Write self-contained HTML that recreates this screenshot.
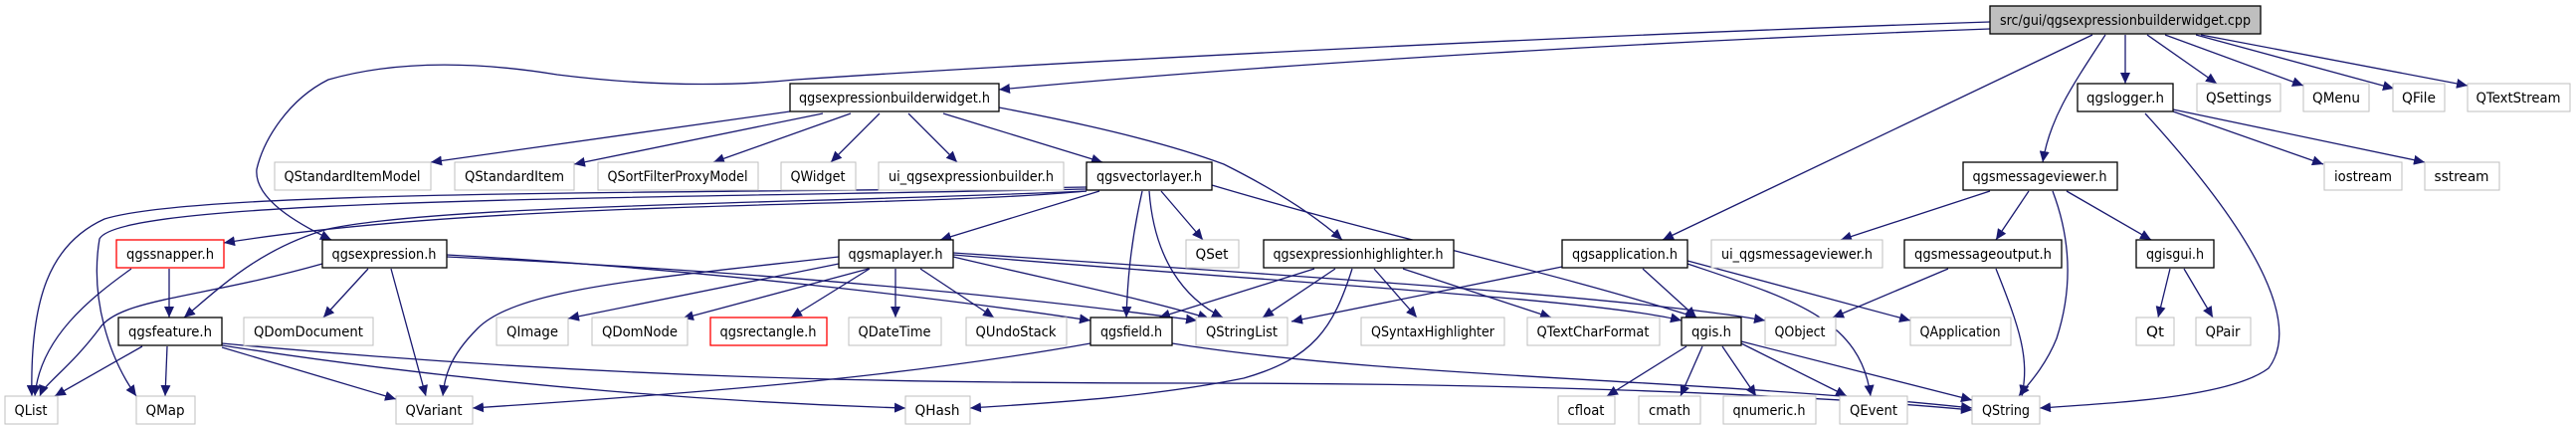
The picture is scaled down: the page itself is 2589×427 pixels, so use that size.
<!DOCTYPE html>
<html><head><meta charset="utf-8"><style>
html,body{margin:0;padding:0;background:#fff;}
svg{display:block;}
text{font-family:"DejaVu Sans","Liberation Sans",sans-serif;font-size:14px;fill:#000;}
.e{fill:none;stroke:#191970;stroke-width:1.3;marker-end:url(#a);}
</style></head><body>
<svg width="2589" height="427" viewBox="0 0 2589 427" xmlns="http://www.w3.org/2000/svg">
<defs><marker id="a" markerUnits="userSpaceOnUse" markerWidth="12" markerHeight="10" refX="11" refY="5" orient="auto"><path d="M0,0 L11,5 L0,10 Z" fill="#191970"/></marker></defs>
<g id="edges">
<path class="e" d="M2000,22 C1600,35 1100,60 800,80 C720,88 640,85 560,75 C480,62 400,60 330,80 C290,100 265,140 258,170 C255,200 300,225 333,241"/>
<path class="e" d="M2000,29 C1700,40 1300,62 1004,90"/>
<path class="e" d="M2103,35 L1671,241"/>
<path class="e" d="M2116,35 C2080,90 2060,120 2053,163"/>
<path class="e" d="M2136,35 L2136,84"/>
<path class="e" d="M2158,35 L2228,84"/>
<path class="e" d="M2176,35 L2315,86"/>
<path class="e" d="M2207,35 L2406,89"/>
<path class="e" d="M2212,35 L2480,86"/>
<path class="e" d="M794,112 L433,163"/>
<path class="e" d="M827,114 L577,165"/>
<path class="e" d="M855,114 L717,163"/>
<path class="e" d="M884,114 L835,163"/>
<path class="e" d="M913,114 L962,163"/>
<path class="e" d="M948,114 L1108,163"/>
<path class="e" d="M1004,108 C1120,130 1190,150 1230,165 C1280,190 1320,215 1349,241"/>
<path class="e" d="M1105,192 L945,241"/>
<path class="e" d="M1148,192 C1135,250 1133,290 1132,319"/>
<path class="e" d="M1155,192 C1160,260 1190,300 1229,319"/>
<path class="e" d="M1167,192 L1209,241"/>
<path class="e" d="M1218,186 C1400,240 1550,270 1705,319"/>
<path class="e" d="M1092,188 C700,195 200,190 105,220 C50,245 30,300 32,398"/>
<path class="e" d="M1092,190 C600,200 120,200 100,240 C90,300 110,360 137,398"/>
<path class="e" d="M1092,192 C900,210 500,200 225,244"/>
<path class="e" d="M1092,192 C800,205 450,205 330,230 C260,250 220,290 185,319"/>
<path class="e" d="M170,270 L170,319"/>
<path class="e" d="M132,270 C90,300 40,340 35,398"/>
<path class="e" d="M324,265 C200,300 120,300 100,330 C70,370 45,385 40,398"/>
<path class="e" d="M370,270 L325,319"/>
<path class="e" d="M393,270 L428,398"/>
<path class="e" d="M449,256 C700,270 950,300 1096,322"/>
<path class="e" d="M449,258 C750,272 1000,295 1203,322"/>
<path class="e" d="M843,258 C650,280 520,290 480,330 C450,360 447,380 445,398"/>
<path class="e" d="M843,265 L571,320"/>
<path class="e" d="M873,270 L686,320"/>
<path class="e" d="M874,270 L795,319"/>
<path class="e" d="M900,270 L900,319"/>
<path class="e" d="M925,270 L999,319"/>
<path class="e" d="M958,258 C1050,280 1150,300 1215,320"/>
<path class="e" d="M958,256 C1300,285 1600,300 1690,322"/>
<path class="e" d="M958,254 C1350,280 1650,300 1774,322"/>
<path class="e" d="M1321,270 L1165,319"/>
<path class="e" d="M1342,270 L1269,319"/>
<path class="e" d="M1359,270 C1340,330 1320,360 1250,380 C1150,400 1050,405 975,410"/>
<path class="e" d="M1381,270 L1424,319"/>
<path class="e" d="M1410,270 L1559,319"/>
<path class="e" d="M1570,268 L1298,323"/>
<path class="e" d="M1651,270 L1705,319"/>
<path class="e" d="M1696,265 C1800,300 1870,320 1880,398"/>
<path class="e" d="M1696,262 L1920,322"/>
<path class="e" d="M143,348 L55,398"/>
<path class="e" d="M168,348 L166,398"/>
<path class="e" d="M223,349 L398,401"/>
<path class="e" d="M223,347 C500,390 750,405 910,410"/>
<path class="e" d="M223,345 C600,380 900,385 1200,385 C1500,385 1800,395 1982,412"/>
<path class="e" d="M1178,345 C1400,380 1700,380 1982,410"/>
<path class="e" d="M1096,345 C900,380 700,395 475,410"/>
<path class="e" d="M1695,348 L1615,398"/>
<path class="e" d="M1711,348 L1689,398"/>
<path class="e" d="M1731,348 L1765,398"/>
<path class="e" d="M1750,345 L1856,398"/>
<path class="e" d="M1750,343 L1982,402"/>
<path class="e" d="M2000,192 L1850,241"/>
<path class="e" d="M2039,192 L2006,241"/>
<path class="e" d="M2063,192 C2085,250 2080,300 2067,340 C2055,370 2035,390 2029,398"/>
<path class="e" d="M2077,192 L2162,241"/>
<path class="e" d="M1958,270 L1842,319"/>
<path class="e" d="M2006,270 C2030,330 2040,360 2032,398"/>
<path class="e" d="M2181,270 L2169,319"/>
<path class="e" d="M2195,270 L2224,319"/>
<path class="e" d="M2184,112 L2335,165"/>
<path class="e" d="M2184,110 L2437,163"/>
<path class="e" d="M2156,114 C2280,250 2310,330 2280,370 C2240,400 2120,405 2050,410"/>
</g>
<g id="nodes">
<rect x="2000" y="6" width="272" height="28" fill="#bfbfbf" stroke="#000" stroke-width="1.3"/><text x="2136" y="25" text-anchor="middle" textLength="252" lengthAdjust="spacingAndGlyphs">src/gui/qgsexpressionbuilderwidget.cpp</text>
<rect x="794" y="84" width="210" height="28" fill="#fff" stroke="#000" stroke-width="1.3"/><text x="899" y="103" text-anchor="middle" textLength="192" lengthAdjust="spacingAndGlyphs">qgsexpressionbuilderwidget.h</text>
<rect x="2088" y="84" width="96" height="28" fill="#fff" stroke="#000" stroke-width="1.3"/><text x="2136" y="103" text-anchor="middle" textLength="78" lengthAdjust="spacingAndGlyphs">qgslogger.h</text>
<rect x="2208" y="84" width="84" height="28" fill="#fff" stroke="#bfbfbf"/><text x="2250" y="103" text-anchor="middle" textLength="66" lengthAdjust="spacingAndGlyphs">QSettings</text>
<rect x="2315" y="84" width="66" height="28" fill="#fff" stroke="#bfbfbf"/><text x="2348" y="103" text-anchor="middle" textLength="48" lengthAdjust="spacingAndGlyphs">QMenu</text>
<rect x="2405" y="84" width="52" height="28" fill="#fff" stroke="#bfbfbf"/><text x="2431" y="103" text-anchor="middle" textLength="34" lengthAdjust="spacingAndGlyphs">QFile</text>
<rect x="2480" y="84" width="103" height="28" fill="#fff" stroke="#bfbfbf"/><text x="2531" y="103" text-anchor="middle" textLength="85" lengthAdjust="spacingAndGlyphs">QTextStream</text>
<rect x="276" y="163" width="157" height="28" fill="#fff" stroke="#bfbfbf"/><text x="354" y="182" text-anchor="middle" textLength="137" lengthAdjust="spacingAndGlyphs">QStandardItemModel</text>
<rect x="457" y="163" width="120" height="28" fill="#fff" stroke="#bfbfbf"/><text x="517" y="182" text-anchor="middle" textLength="100" lengthAdjust="spacingAndGlyphs">QStandardItem</text>
<rect x="601" y="163" width="161" height="28" fill="#fff" stroke="#bfbfbf"/><text x="681" y="182" text-anchor="middle" textLength="141" lengthAdjust="spacingAndGlyphs">QSortFilterProxyModel</text>
<rect x="785" y="163" width="75" height="28" fill="#fff" stroke="#bfbfbf"/><text x="822" y="182" text-anchor="middle" textLength="55" lengthAdjust="spacingAndGlyphs">QWidget</text>
<rect x="883" y="163" width="186" height="28" fill="#fff" stroke="#bfbfbf"/><text x="976" y="182" text-anchor="middle" textLength="166" lengthAdjust="spacingAndGlyphs">ui_qgsexpressionbuilder.h</text>
<rect x="1092" y="163" width="126" height="28" fill="#fff" stroke="#000" stroke-width="1.3"/><text x="1155" y="182" text-anchor="middle" textLength="106" lengthAdjust="spacingAndGlyphs">qgsvectorlayer.h</text>
<rect x="1973" y="163" width="155" height="28" fill="#fff" stroke="#000" stroke-width="1.3"/><text x="2050" y="182" text-anchor="middle" textLength="135" lengthAdjust="spacingAndGlyphs">qgsmessageviewer.h</text>
<rect x="2336" y="163" width="78" height="28" fill="#fff" stroke="#bfbfbf"/><text x="2375" y="182" text-anchor="middle" textLength="58" lengthAdjust="spacingAndGlyphs">iostream</text>
<rect x="2437" y="163" width="75" height="28" fill="#fff" stroke="#bfbfbf"/><text x="2474" y="182" text-anchor="middle" textLength="55" lengthAdjust="spacingAndGlyphs">sstream</text>
<rect x="117" y="241" width="108" height="28" fill="#fff" stroke="#ff0000" stroke-width="1.3"/><text x="171" y="260" text-anchor="middle" textLength="88" lengthAdjust="spacingAndGlyphs">qgssnapper.h</text>
<rect x="324" y="241" width="125" height="28" fill="#fff" stroke="#000" stroke-width="1.3"/><text x="386" y="260" text-anchor="middle" textLength="105" lengthAdjust="spacingAndGlyphs">qgsexpression.h</text>
<rect x="843" y="241" width="115" height="28" fill="#fff" stroke="#000" stroke-width="1.3"/><text x="900" y="260" text-anchor="middle" textLength="95" lengthAdjust="spacingAndGlyphs">qgsmaplayer.h</text>
<rect x="1192" y="241" width="53" height="28" fill="#fff" stroke="#bfbfbf"/><text x="1218" y="260" text-anchor="middle" textLength="33" lengthAdjust="spacingAndGlyphs">QSet</text>
<rect x="1270" y="241" width="191" height="28" fill="#fff" stroke="#000" stroke-width="1.3"/><text x="1365" y="260" text-anchor="middle" textLength="171" lengthAdjust="spacingAndGlyphs">qgsexpressionhighlighter.h</text>
<rect x="1570" y="241" width="126" height="28" fill="#fff" stroke="#000" stroke-width="1.3"/><text x="1633" y="260" text-anchor="middle" textLength="106" lengthAdjust="spacingAndGlyphs">qgsapplication.h</text>
<rect x="1720" y="241" width="172" height="28" fill="#fff" stroke="#bfbfbf"/><text x="1806" y="260" text-anchor="middle" textLength="152" lengthAdjust="spacingAndGlyphs">ui_qgsmessageviewer.h</text>
<rect x="1914" y="241" width="158" height="28" fill="#fff" stroke="#000" stroke-width="1.3"/><text x="1993" y="260" text-anchor="middle" textLength="138" lengthAdjust="spacingAndGlyphs">qgsmessageoutput.h</text>
<rect x="2147" y="241" width="78" height="28" fill="#fff" stroke="#000" stroke-width="1.3"/><text x="2186" y="260" text-anchor="middle" textLength="58" lengthAdjust="spacingAndGlyphs">qgisgui.h</text>
<rect x="119" y="319" width="104" height="28" fill="#fff" stroke="#000" stroke-width="1.3"/><text x="171" y="338" text-anchor="middle" textLength="84" lengthAdjust="spacingAndGlyphs">qgsfeature.h</text>
<rect x="245" y="319" width="130" height="28" fill="#fff" stroke="#bfbfbf"/><text x="310" y="338" text-anchor="middle" textLength="110" lengthAdjust="spacingAndGlyphs">QDomDocument</text>
<rect x="499" y="319" width="72" height="28" fill="#fff" stroke="#bfbfbf"/><text x="535" y="338" text-anchor="middle" textLength="52" lengthAdjust="spacingAndGlyphs">QImage</text>
<rect x="595" y="319" width="96" height="28" fill="#fff" stroke="#bfbfbf"/><text x="643" y="338" text-anchor="middle" textLength="76" lengthAdjust="spacingAndGlyphs">QDomNode</text>
<rect x="714" y="319" width="117" height="28" fill="#fff" stroke="#ff0000" stroke-width="1.3"/><text x="772" y="338" text-anchor="middle" textLength="97" lengthAdjust="spacingAndGlyphs">qgsrectangle.h</text>
<rect x="853" y="319" width="93" height="28" fill="#fff" stroke="#bfbfbf"/><text x="899" y="338" text-anchor="middle" textLength="73" lengthAdjust="spacingAndGlyphs">QDateTime</text>
<rect x="971" y="319" width="101" height="28" fill="#fff" stroke="#bfbfbf"/><text x="1021" y="338" text-anchor="middle" textLength="81" lengthAdjust="spacingAndGlyphs">QUndoStack</text>
<rect x="1096" y="319" width="82" height="28" fill="#fff" stroke="#000" stroke-width="1.3"/><text x="1137" y="338" text-anchor="middle" textLength="62" lengthAdjust="spacingAndGlyphs">qgsfield.h</text>
<rect x="1202" y="319" width="92" height="28" fill="#fff" stroke="#bfbfbf"/><text x="1248" y="338" text-anchor="middle" textLength="72" lengthAdjust="spacingAndGlyphs">QStringList</text>
<rect x="1368" y="319" width="144" height="28" fill="#fff" stroke="#bfbfbf"/><text x="1440" y="338" text-anchor="middle" textLength="124" lengthAdjust="spacingAndGlyphs">QSyntaxHighlighter</text>
<rect x="1535" y="319" width="133" height="28" fill="#fff" stroke="#bfbfbf"/><text x="1601" y="338" text-anchor="middle" textLength="113" lengthAdjust="spacingAndGlyphs">QTextCharFormat</text>
<rect x="1690" y="319" width="60" height="28" fill="#fff" stroke="#000" stroke-width="1.3"/><text x="1720" y="338" text-anchor="middle" textLength="40" lengthAdjust="spacingAndGlyphs">qgis.h</text>
<rect x="1774" y="319" width="71" height="28" fill="#fff" stroke="#bfbfbf"/><text x="1809" y="338" text-anchor="middle" textLength="51" lengthAdjust="spacingAndGlyphs">QObject</text>
<rect x="1920" y="319" width="101" height="28" fill="#fff" stroke="#bfbfbf"/><text x="1970" y="338" text-anchor="middle" textLength="81" lengthAdjust="spacingAndGlyphs">QApplication</text>
<rect x="2147" y="319" width="38" height="28" fill="#fff" stroke="#bfbfbf"/><text x="2166" y="338" text-anchor="middle" textLength="18" lengthAdjust="spacingAndGlyphs">Qt</text>
<rect x="2207" y="319" width="55" height="28" fill="#fff" stroke="#bfbfbf"/><text x="2234" y="338" text-anchor="middle" textLength="35" lengthAdjust="spacingAndGlyphs">QPair</text>
<rect x="5" y="398" width="53" height="28" fill="#fff" stroke="#bfbfbf"/><text x="31" y="417" text-anchor="middle" textLength="33" lengthAdjust="spacingAndGlyphs">QList</text>
<rect x="137" y="398" width="59" height="28" fill="#fff" stroke="#bfbfbf"/><text x="166" y="417" text-anchor="middle" textLength="39" lengthAdjust="spacingAndGlyphs">QMap</text>
<rect x="398" y="398" width="77" height="28" fill="#fff" stroke="#bfbfbf"/><text x="436" y="417" text-anchor="middle" textLength="57" lengthAdjust="spacingAndGlyphs">QVariant</text>
<rect x="910" y="398" width="65" height="28" fill="#fff" stroke="#bfbfbf"/><text x="942" y="417" text-anchor="middle" textLength="45" lengthAdjust="spacingAndGlyphs">QHash</text>
<rect x="1566" y="398" width="57" height="28" fill="#fff" stroke="#bfbfbf"/><text x="1594" y="417" text-anchor="middle" textLength="37" lengthAdjust="spacingAndGlyphs">cfloat</text>
<rect x="1647" y="398" width="62" height="28" fill="#fff" stroke="#bfbfbf"/><text x="1678" y="417" text-anchor="middle" textLength="42" lengthAdjust="spacingAndGlyphs">cmath</text>
<rect x="1732" y="398" width="93" height="28" fill="#fff" stroke="#bfbfbf"/><text x="1778" y="417" text-anchor="middle" textLength="73" lengthAdjust="spacingAndGlyphs">qnumeric.h</text>
<rect x="1849" y="398" width="68" height="28" fill="#fff" stroke="#bfbfbf"/><text x="1883" y="417" text-anchor="middle" textLength="48" lengthAdjust="spacingAndGlyphs">QEvent</text>
<rect x="1982" y="398" width="68" height="28" fill="#fff" stroke="#bfbfbf"/><text x="2016" y="417" text-anchor="middle" textLength="48" lengthAdjust="spacingAndGlyphs">QString</text>
</g>
</svg>
</body></html>
